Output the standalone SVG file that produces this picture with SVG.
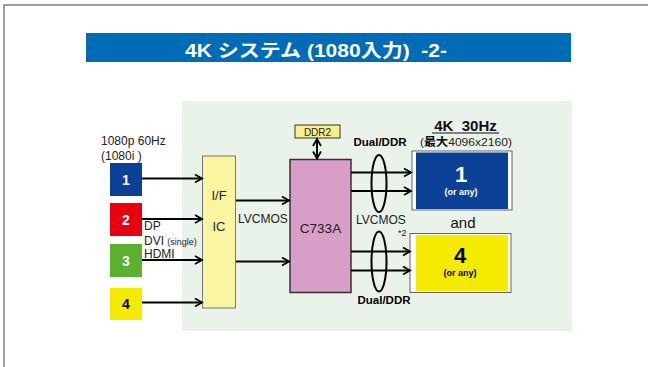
<svg xmlns="http://www.w3.org/2000/svg" width="648" height="367" viewBox="0 0 648 367">
<defs>
<marker id="ah" markerUnits="userSpaceOnUse" markerWidth="10" markerHeight="10" refX="8" refY="5" orient="auto-start-reverse">
<path d="M1,1 L8,5 L1,9" fill="none" stroke="#000" stroke-width="1.8"/>
</marker>
<style>
text{font-family:"Liberation Sans",Arial,"Noto Sans CJK JP",sans-serif;white-space:pre}
.ar{stroke:#000;stroke-width:2;fill:none;marker-end:url(#ah)}
.el{stroke:#000;stroke-width:2;fill:none}
.lbl{font-size:12px;fill:#222}
.num{font-size:14px;font-weight:bold;text-anchor:middle}
.dd{font-size:11.5px;font-weight:bold;text-anchor:middle}
</style>
</defs>
<rect x="0" y="0" width="648" height="367" fill="#fff"/>
<rect x="4" y="5" width="700" height="400" fill="#fff" stroke="#808080" stroke-width="1.5"/>
<g id="title">
<rect x="86" y="33" width="485" height="29" fill="#006BB6"/>
<text x="185" y="56.5" font-size="18" font-weight="bold" fill="#fff" textLength="262" lengthAdjust="spacingAndGlyphs" xml:space="preserve">4K システム (1080入力)  -2-</text>
</g>
<rect id="bg" x="182" y="101" width="390" height="230" fill="#EAF3EA"/>
<g id="input-labels">
<text class="lbl" x="101" y="145" font-size="12.5">1080p 60Hz</text>
<text class="lbl" x="101" y="160" font-size="12.5">(1080i )</text>
<text class="lbl" x="144" y="230">DP</text>
<text class="lbl" x="144" y="245">DVI <tspan font-size="9">(single)</tspan></text>
<text class="lbl" x="144" y="258">HDMI</text>
</g>
<g id="in1"><rect x="110" y="163" width="32" height="33" fill="#0B4097"/><text class="num" x="126" y="185" fill="#fff">1</text></g>
<g id="in2"><rect x="110" y="203" width="32" height="33" fill="#E60012"/><text class="num" x="126" y="225" fill="#fff">2</text></g>
<g id="in3"><rect x="110" y="244" width="32" height="33" fill="#5BB030"/><text class="num" x="126" y="266" fill="#fff">3</text></g>
<g id="in4"><rect x="110" y="288" width="32" height="32" fill="#F5EB00"/><text class="num" x="126" y="309" fill="#000">4</text></g>
<g id="ific">
<rect x="202.5" y="156" width="33" height="152" fill="#FAF5A0" stroke="#777" stroke-width="1"/>
<text x="219" y="200" font-size="13" text-anchor="middle" fill="#222">I/F</text>
<text x="219" y="231" font-size="13" text-anchor="middle" fill="#222">IC</text>
</g>
<g id="ddr2">
<rect x="295" y="125" width="45" height="13" fill="#F8F08A" stroke="#333" stroke-width="1"/>
<text x="317.5" y="135.5" font-size="10" text-anchor="middle" fill="#222">DDR2</text>
</g>
<g id="c733a">
<rect x="290" y="159.5" width="61" height="133" fill="#D89EC8" stroke="#333" stroke-width="1.5"/>
<text x="320.5" y="233" font-size="13.5" text-anchor="middle" fill="#222">C733A</text>
</g>
<g id="disp1">
<rect x="412" y="151" width="100" height="59" fill="#fff" stroke="#666" stroke-width="1"/>
<rect x="416" y="152.5" width="92" height="56.5" fill="#0B4097"/>
<text x="461" y="182" font-size="22" font-weight="bold" fill="#fff" text-anchor="middle">1</text>
<text x="461" y="194.5" font-size="9" font-weight="bold" fill="#fff" text-anchor="middle">(or any)</text>
</g>
<g id="disp4">
<rect x="410" y="233.5" width="101" height="59" fill="#fff" stroke="#666" stroke-width="1"/>
<rect x="416" y="235" width="92" height="56.5" fill="#F5EB00"/>
<text x="460" y="263" font-size="22" font-weight="bold" fill="#000" text-anchor="middle">4</text>
<text x="460" y="275.5" font-size="9" font-weight="bold" fill="#000" text-anchor="middle">(or any)</text>
</g>
<g id="right-labels">
<text x="465.5" y="131" font-size="15" font-weight="bold" text-anchor="middle" fill="#111" xml:space="preserve">4K  30Hz</text>
<line x1="432" y1="133" x2="499" y2="133" stroke="#111" stroke-width="1.2"/>
<text x="420" y="146" font-size="11.5" fill="#222" textLength="92" lengthAdjust="spacingAndGlyphs">(<tspan font-weight="bold" fill="#000">最大</tspan>4096x2160)</text>
<text x="463" y="228" font-size="15" text-anchor="middle" fill="#111">and</text>
<text class="dd" x="380" y="146">Dual/DDR</text>
<text class="dd" x="384" y="303.5">Dual/DDR</text>
<text class="lbl" x="356" y="223.5">LVCMOS</text>
<text x="398" y="236" font-size="9" fill="#222">*2</text>
<text class="lbl" x="238" y="223">LVCMOS</text>
</g>
<g id="connectors">
<line class="ar" x1="142" y1="178.5" x2="202" y2="178.5"/>
<line class="ar" x1="142" y1="219" x2="202" y2="219"/>
<line class="ar" x1="142" y1="260" x2="202" y2="260"/>
<line class="ar" x1="142" y1="302.5" x2="202" y2="302.5"/>
<line class="ar" x1="236" y1="200.5" x2="289" y2="200.5"/>
<line class="ar" x1="236" y1="261.5" x2="289" y2="261.5"/>
<line x1="317" y1="139" x2="317" y2="158.5" stroke="#000" stroke-width="2" marker-start="url(#ah)" marker-end="url(#ah)"/>
<line class="ar" x1="351" y1="172.5" x2="411" y2="172.5"/>
<line class="ar" x1="351" y1="191" x2="411" y2="191"/>
<line class="ar" x1="351" y1="251.5" x2="410" y2="251.5"/>
<line class="ar" x1="351" y1="270.5" x2="410" y2="270.5"/>
<ellipse class="el" cx="379" cy="183.5" rx="7.5" ry="28.5"/>
<ellipse class="el" cx="379" cy="261.5" rx="7.5" ry="30"/>
</g>
</svg>
